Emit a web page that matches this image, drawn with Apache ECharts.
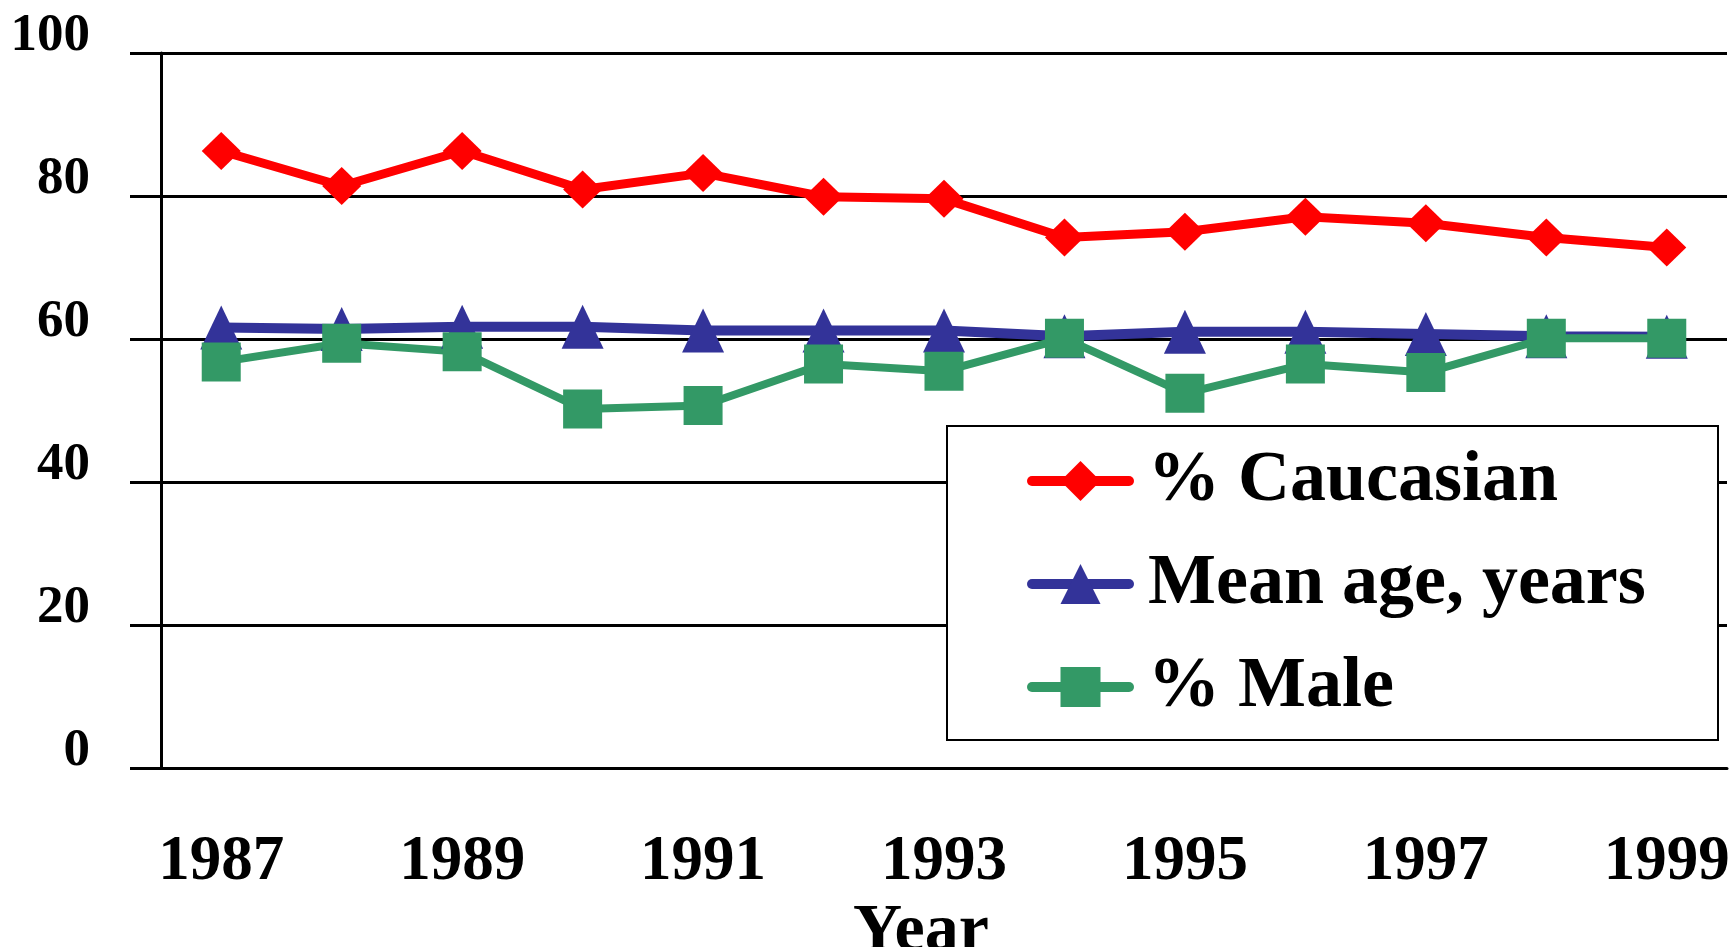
<!DOCTYPE html>
<html lang="en">
<head>
    <meta charset="UTF-8">
    <title>Caucasian, mean age and male share by year</title>
    <script src="https://cdn.jsdelivr.net/npm/echarts@6/dist/echarts.min.js"></script>
    <style>
        html, body { margin: 0; padding: 0; background: #fff; }
        #main { width: 1734px; height: 947px; }
    </style>
</head>
<body>
    <div id="main"></div>

    <script>
        // valores
        const years = ['1987', '1988', '1989', '1990', '1991', '1992', '1993',
                       '1994', '1995', '1996', '1997', '1998', '1999'];
        const caucasian = [86.3, 81.4, 86.3, 80.9, 83.2, 79.9, 79.6, 74.2, 75.0, 77.1, 76.2, 74.2, 72.8];
        const meanAge   = [61.6, 61.4, 61.7, 61.7, 61.2, 61.2, 61.2, 60.4, 61.0, 61.0, 60.7, 60.4, 60.3];
        const male      = [56.8, 59.4, 58.2, 50.2, 50.7, 56.5, 55.5, 60.1, 52.4, 56.5, 55.3, 60.1, 60.1];
        const yTicks = [0, 20, 40, 60, 80, 100];

        const font = 'Liberation Serif, Times New Roman, serif';

        var myChart = echarts.init(document.getElementById('main'));

        var option = {
            animation: false,
            backgroundColor: '#fff',
            textStyle: { fontFamily: font, fontWeight: 'bold', color: '#000' },
            grid: {
                left: 161, right: 7, top: 53, bottom: 179,
                containLabel: false,
                outerBoundsMode: 'none'
            },
            legend: {
                orient: 'vertical',
                left: 947,
                top: 426,
                padding: [19, 5, 17, 80],
                itemGap: 31,
                itemWidth: 97,
                itemHeight: 50,
                backgroundColor: '#fff',
                borderColor: '#000',
                borderWidth: 2,
                borderRadius: 0,
                lineStyle: { width: 10, cap: 'round' },
                textStyle: {
                    fontFamily: font, fontWeight: 'bold', fontSize: 72,
                    lineHeight: 72, color: '#000', width: 565, padding: [0, 0, 0, 14]
                },
                data: ['% Caucasian', 'Mean age, years', '% Male']
            },
            xAxis: {
                type: 'category',
                data: years,
                boundaryGap: true,
                name: 'Year',
                nameLocation: 'middle',
                nameGap: 123,
                nameTextStyle: {
                    fontFamily: font, fontWeight: 'bold', fontSize: 68,
                    color: '#000', padding: [0, 46, 0, 0]
                },
                axisLine: { lineStyle: { color: '#000', width: 3 } },
                axisTick: { interval: 0, length: 18, lineStyle: { color: '#000', width: 3 } },
                axisLabel: {
                    interval: 1, margin: 63,
                    fontFamily: font, fontWeight: 'bold', fontSize: 63, color: '#000'
                },
                splitLine: { show: false }
            },
            yAxis: {
                type: 'value',
                min: yTicks[0],
                max: yTicks[yTicks.length - 1],
                interval: 20,
                axisLine: { show: true, lineStyle: { color: '#000', width: 3 } },
                axisTick: { show: true, length: 31, lineStyle: { color: '#000', width: 3 } },
                axisLabel: {
                    margin: 71,
                    fontFamily: font, fontWeight: 'bold', fontSize: 53, color: '#000',
                    verticalAlign: 'bottom', lineHeight: 34
                },
                splitLine: { show: true, lineStyle: { color: '#000', width: 3 } }
            },
            series: [
                {
                    name: '% Caucasian',
                    type: 'line',
                    data: caucasian,
                    symbol: 'diamond',
                    symbolSize: [39, 38],
                    itemStyle: { color: '#ff0000' },
                    lineStyle: { color: '#ff0000', width: 9 }
                },
                {
                    name: 'Mean age, years',
                    type: 'line',
                    data: meanAge,
                    symbol: 'triangle',
                    symbolSize: [42, 44],
                    itemStyle: { color: '#333399' },
                    lineStyle: { color: '#333399', width: 10 }
                },
                {
                    name: '% Male',
                    type: 'line',
                    data: male,
                    symbol: 'rect',
                    symbolSize: 39,
                    itemStyle: { color: '#339966' },
                    lineStyle: { color: '#339966', width: 8 }
                }
            ]
        };

        option && myChart.setOption(option);
    </script>
</body>
</html>
